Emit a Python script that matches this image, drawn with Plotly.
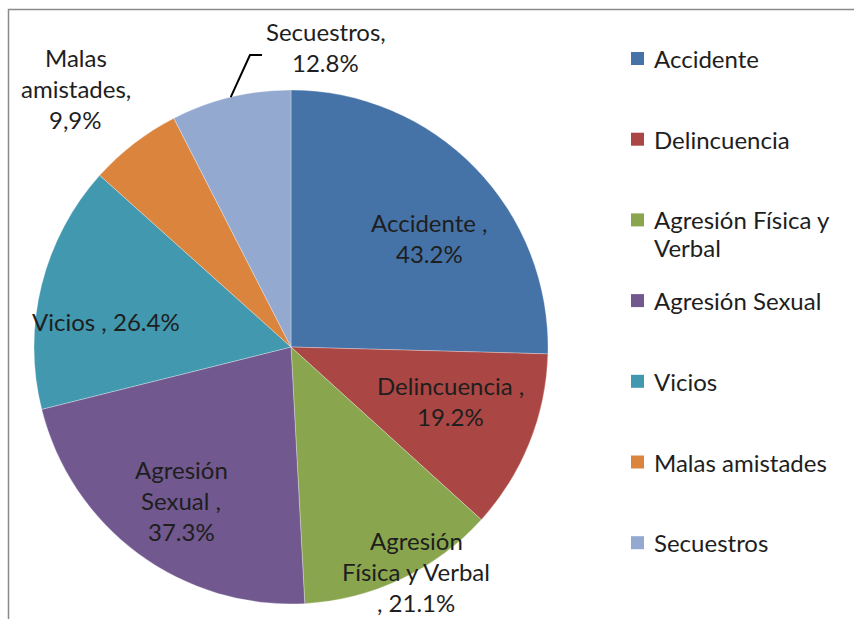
import math
import plotly.graph_objects as go

# ---------------- data ----------------
categories = ["Accidente", "Delincuencia", "Agresión Física y Verbal",
              "Agresión Sexual", "Vicios", "Malas amistades", "Secuestros"]
values = [43.2, 19.2, 21.1, 37.3, 26.4, 9.9, 12.8]
value_labels = ["43.2%", "19.2%", "21.1%", "37.3%", "26.4%", "9,9%", "12.8%"]
slice_label_lines = [
    ["Accidente ,", "43.2%"],
    ["Delincuencia ,", "19.2%"],
    ["Agresión", "Física y Verbal", ", 21.1%"],
    ["Agresión", "Sexual ,", "37.3%"],
    ["Vicios , 26.4%"],
    ["Malas", "amistades,", "9,9%"],
    ["Secuestros,", "12.8%"],
]
legend_lines = [["Accidente"], ["Delincuencia"], ["Agresión Física y", "Verbal"],
                ["Agresión Sexual"], ["Vicios"], ["Malas amistades"], ["Secuestros"]]
colors = ["#4572A7", "#AA4643", "#89A54E", "#71588F", "#4198AF", "#DB843D", "#93A9CF"]

# ---------------- style ----------------
W, H = 854, 619
FONT = "Lato"
FS = 24
TXT = "#1e1e1e"
dom_x = [34 / W, 548 / W]
dom_y = [1 - 604 / H, 1 - 90 / H]
# label placement (radius factor, angular offset in degrees from slice middle)
label_r = [0.688, 0.654, 1.0, 0.736, 0.726, 1.307, 1.177]
label_dtheta = [6.0, -3.0, -3.7, -0.9, -6.2, -2.2, 20.2]
line_gap = 31

CX = (dom_x[0] + dom_x[1]) / 2 * W
CY = (1 - (dom_y[0] + dom_y[1]) / 2) * H
R = min((dom_x[1] - dom_x[0]) * W, (dom_y[1] - dom_y[0]) * H) / 2


def polar_px(theta_deg, r):
    t = math.radians(theta_deg)
    return CX + r * R * math.sin(t), CY - r * R * math.cos(t)


fig = go.Figure()
fig.add_trace(go.Pie(
    labels=categories, values=values, sort=False, direction="clockwise",
    rotation=0, textinfo="none", showlegend=False,
    marker=dict(colors=colors, line=dict(color="rgba(255,255,255,0.5)", width=0.6)),
    domain=dict(x=dom_x, y=dom_y),
))

annotations = []
shapes = []
total = sum(values)
cum = 0.0
label_centers = []
mids = []
for i, v in enumerate(values):
    mid = (cum + v / 2) / total * 360
    mids.append(mid)
    cum += v
    px, py = polar_px(mid + label_dtheta[i], label_r[i])
    label_centers.append((px, py))
    lines = slice_label_lines[i]
    n = len(lines)
    for j, ln in enumerate(lines):
        yy = py + (j - (n - 1) / 2) * line_gap
        annotations.append(dict(
            x=px / W, y=1 - yy / H, xref="paper", yref="paper", text=ln,
            showarrow=False, xanchor="center", yanchor="middle",
            font=dict(family=FONT, size=FS, color=TXT)))

# leader line for Secuestros
sx, sy = polar_px(mids[6], 1.0)
tx, ty = label_centers[6]
ex, ey = tx - 76, ty + 8.5
fx = tx - 64
shapes.append(dict(
    type="path", xref="paper", yref="paper",
    path=f"M {sx / W} {1 - sy / H} L {ex / W} {1 - ey / H} L {fx / W} {1 - ey / H}",
    line=dict(color="black", width=2)))

# legend
LEG_SQ_X = 631
LEG_SQ = 13
LEG_TX = 652
LEG_Y0 = 58.5
LEG_STEP = 80.7
for i, lines in enumerate(legend_lines):
    yc = LEG_Y0 + i * LEG_STEP
    shapes.append(dict(
        type="rect", xref="paper", yref="paper",
        x0=LEG_SQ_X / W, x1=(LEG_SQ_X + LEG_SQ) / W,
        y0=1 - (yc + LEG_SQ / 2) / H, y1=1 - (yc - LEG_SQ / 2) / H,
        fillcolor=colors[i], line=dict(width=0)))
    for j, ln in enumerate(lines):
        annotations.append(dict(
            x=LEG_TX / W, y=1 - (yc + j * 28) / H, xref="paper", yref="paper",
            text=ln, showarrow=False, xanchor="left", yanchor="middle",
            font=dict(family=FONT, size=FS, color=TXT)))

# chart frame (cropped at right and bottom)
shapes.append(dict(type="rect", xref="paper", yref="paper",
                   x0=8.5 / W, x1=1.2, y0=-0.2, y1=1 - 9.5 / H,
                   line=dict(color="#8a8a8a", width=1.5), fillcolor="rgba(0,0,0,0)"))

fig.update_layout(
    width=W, height=H, margin=dict(l=0, r=0, t=0, b=0),
    paper_bgcolor="white", plot_bgcolor="white",
    annotations=annotations, shapes=shapes,
)
fig.write_html("out.html", config={"displayModeBar": False},
               post_script="document.body.style.margin='0px';document.body.style.overflow='hidden';")
